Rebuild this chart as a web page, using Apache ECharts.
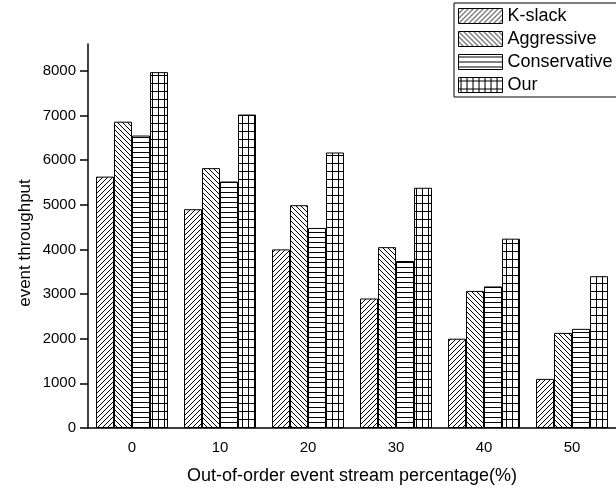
<!DOCTYPE html>
<html>
<head>
<meta charset="utf-8">
<script src="https://cdn.jsdelivr.net/npm/echarts@6/dist/echarts.min.js"></script>
<style>
  html, body { margin: 0; padding: 0; background: #fff; }
  #chart { width: 616px; height: 490px; }
</style>
</head>
<body>
<div id="chart"></div>
<script>
// Throughput per out-of-order percentage
const categories = ['0', '10', '20', '30', '40', '50'];
const kSlack       = [5630, 4900, 4000, 2900, 2000, 1100];
const aggressive   = [6860, 5820, 4990, 4050, 3070, 2130];
const conservative = [6550, 5520, 4480, 3740, 3170, 2220];
const ours         = [7970, 7020, 6170, 5380, 4240, 3400];
const yTicks = [0, 1000, 2000, 3000, 4000, 5000, 6000, 7000, 8000];

// Hatch fill tiles drawn on small canvases
function tile(w, h, draw) {
  const c = document.createElement('canvas');
  c.width = w; c.height = h;
  const g = c.getContext('2d');
  g.fillStyle = '#fff';
  g.fillRect(0, 0, w, h);
  g.strokeStyle = '#000';
  g.lineWidth = 1;
  draw(g, w, h);
  return { image: c, repeat: 'repeat' };
}
const hatchSlash = tile(5, 5, (g, w, h) => {
  g.beginPath();
  g.moveTo(-1, h + 1); g.lineTo(w + 1, -1);
  g.moveTo(-1, 1); g.lineTo(1, -1);
  g.moveTo(w - 1, h + 1); g.lineTo(w + 1, h - 1);
  g.stroke();
});
const hatchBack = tile(5, 5, (g, w, h) => {
  g.beginPath();
  g.moveTo(-1, -1); g.lineTo(w + 1, h + 1);
  g.moveTo(w - 1, -1); g.lineTo(w + 1, 1);
  g.moveTo(-1, h - 1); g.lineTo(1, h + 1);
  g.stroke();
});
const hatchHoriz = tile(5, 5, (g, w, h) => {
  g.beginPath();
  g.moveTo(0, 2.5); g.lineTo(w, 2.5);
  g.stroke();
});
const hatchGrid = tile(6, 8, (g, w, h) => {
  g.beginPath();
  g.moveTo(0, 3.5); g.lineTo(w, 3.5);
  g.moveTo(2.5, 0); g.lineTo(2.5, h);
  g.stroke();
});

const font = 'Liberation Sans, Arial, sans-serif';
function bar(name, data, fill) {
  return {
    name: name,
    type: 'bar',
    data: data,
    barWidth: 18,
    barGap: '0%',
    itemStyle: { color: fill, borderColor: '#000', borderWidth: 1 },
    emphasis: { disabled: true }
  };
}

const chart = echarts.init(document.getElementById('chart'), null, { renderer: 'canvas' });
chart.setOption({
  animation: false,
  backgroundColor: '#fff',
  textStyle: { fontFamily: font, color: '#000' },
  grid: { left: 88, top: 44, width: 534, bottom: 61, containLabel: false },
  legend: {
    orient: 'vertical',
    left: 454,
    top: 3,
    icon: 'rect',
    itemWidth: 44,
    itemHeight: 15,
    itemGap: 5,
    padding: [4, 12, 3, 4],
    borderColor: '#000',
    borderWidth: 1,
    backgroundColor: '#fff',
    selectedMode: false,
    itemStyle: { borderColor: '#000', borderWidth: 1 },
    textStyle: { fontFamily: font, fontSize: 18, lineHeight: 18, color: '#000' }
  },
  graphic: [{
    type: 'text',
    x: 25,
    y: 243,
    rotation: Math.PI / 2,
    style: {
      text: 'event throughput',
      fontFamily: font,
      fontSize: 17,
      fill: '#000',
      align: 'center',
      verticalAlign: 'middle'
    }
  }],
  xAxis: {
    type: 'category',
    data: categories,
    axisLine: { lineStyle: { color: '#000', width: 1.5 } },
    axisTick: { alignWithLabel: true, length: 8, lineStyle: { color: '#000', width: 1.5 } },
    axisLabel: { color: '#000', fontSize: 15, fontFamily: font, margin: 12 },
    name: 'Out-of-order event stream percentage(%)',
    nameLocation: 'middle',
    nameGap: 39,
    nameTextStyle: { color: '#000', fontSize: 18, fontFamily: font }
  },
  yAxis: {
    type: 'value',
    min: 0,
    max: 8600,
    interval: 1000,
    splitLine: { show: false },
    axisLine: { show: true, lineStyle: { color: '#000', width: 1.5 } },
    axisTick: { show: true, length: 8, customValues: yTicks, lineStyle: { color: '#000', width: 1.5 } },
    axisLabel: {
      color: '#000', fontSize: 15, fontFamily: font, margin: 12,
      customValues: yTicks,
      formatter: (v) => String(v)
    }
  },
  series: [
    bar('K-slack', kSlack, hatchSlash),
    bar('Aggressive', aggressive, hatchBack),
    bar('Conservative', conservative, hatchHoriz),
    bar('Our', ours, hatchGrid)
  ]
});
</script>
</body>
</html>
